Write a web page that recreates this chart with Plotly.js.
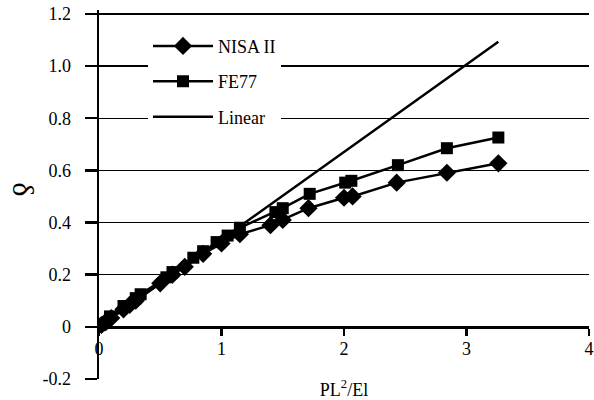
<!DOCTYPE html>
<html>
<head>
<meta charset="utf-8">
<script src="https://cdn.plot.ly/plotly-3.0.1.min.js"></script>
<style>html,body{margin:0;padding:0;background:#fff;}#chart{width:594px;height:400px;}</style>
</head>
<body>
<div id="chart"></div>
<script>
var nisaX = [0.02, 0.05, 0.10, 0.20, 0.25, 0.30, 0.50, 0.60, 0.70, 0.85, 1.00, 1.15, 1.40, 1.50, 1.71, 2.00, 2.07, 2.43, 2.84, 3.26];
var nisaY = [0.007, 0.017, 0.034, 0.067, 0.084, 0.100, 0.167, 0.200, 0.230, 0.280, 0.320, 0.355, 0.390, 0.410, 0.455, 0.495, 0.500, 0.553, 0.591, 0.627];
var feX = [0.02, 0.09, 0.20, 0.30, 0.34, 0.55, 0.60, 0.77, 0.85, 0.96, 1.05, 1.15, 1.44, 1.50, 1.72, 2.01, 2.06, 2.44, 2.84, 3.26];
var feY = [0.010, 0.040, 0.080, 0.110, 0.125, 0.190, 0.210, 0.265, 0.290, 0.325, 0.350, 0.380, 0.440, 0.455, 0.510, 0.553, 0.560, 0.620, 0.685, 0.726];
var linX = [0, 3.26];
var linY = [0, 1.093];
var yTickVals = [-0.2, 0, 0.2, 0.4, 0.6, 0.8, 1.0, 1.2];
var yTickText = ['-0.2', '0', '0.2', '0.4', '0.6', '0.8', '1.0', '1.2'];
var xTickVals = [0, 1, 2, 3, 4];
var xTickText = ['0', '1', '2', '3', '4'];
var xTitle = 'PL<sup>2</sup>/El';
var yTitle = 'δ';

var font = "'Liberation Serif', 'Times New Roman', serif";
var traces = [
  {x: nisaX, y: nisaY, name: 'NISA II', mode: 'lines+markers', legendgroup: 'a',
   line: {color: '#000', width: 2.5}, marker: {symbol: 'diamond', size: 14, color: '#000'}},
  {x: feX, y: feY, name: 'FE77', mode: 'lines+markers', legendgroup: 'b',
   line: {color: '#000', width: 2.5}, marker: {symbol: 'square', size: 12, color: '#000'}},
  {x: linX, y: linY, name: 'Linear', mode: 'lines', legendgroup: 'c',
   line: {color: '#000', width: 2.5}}
];
var layout = {
  width: 594, height: 400,
  margin: {l: 99, r: 5, t: 10, b: 21},
  paper_bgcolor: '#fff', plot_bgcolor: 'rgba(0,0,0,0)',
  font: {family: font, size: 18, color: '#000'},
  showlegend: true,
  legend: {x: 0.1, y: 0.952, xanchor: 'left', yanchor: 'top', bgcolor: '#fff', borderwidth: 0,
           traceorder: 'grouped', tracegroupgap: 9, itemwidth: 60, font: {family: font, size: 18}},
  annotations: [{text: yTitle, xref: 'paper', yref: 'paper', x: -0.153, y: 0.514,
                 xanchor: 'center', yanchor: 'middle', showarrow: false, textangle: 90,
                 font: {family: font, size: 30, color: '#000'}}],
  xaxis: {range: [0, 4], anchor: 'free', position: 0.2 / 1.415, tickvals: xTickVals, ticktext: xTickText,
          showline: true, linecolor: '#000', linewidth: 3, ticks: 'outside', ticklen: 7, tickwidth: 2.5, tickcolor: '#000',
          ticklabelstandoff: -2, tickfont: {family: font, size: 18},
          showgrid: false, zeroline: false, automargin: false,
          title: {text: xTitle, font: {family: font, size: 18}, standoff: 26}},
  yaxis: {range: [-0.2, 1.215], tickvals: yTickVals, ticktext: yTickText,
          showline: true, linecolor: '#000', linewidth: 2.5, ticks: 'outside', ticklen: 12, tickwidth: 2.5, tickcolor: '#000',
          ticklabelstandoff: 10, tickfont: {family: font, size: 18},
          showgrid: true, gridcolor: '#000', gridwidth: 1.2, zeroline: false, automargin: false}
};
Plotly.newPlot('chart', traces, layout, {displayModeBar: false, staticPlot: true});
</script>
</body>
</html>
